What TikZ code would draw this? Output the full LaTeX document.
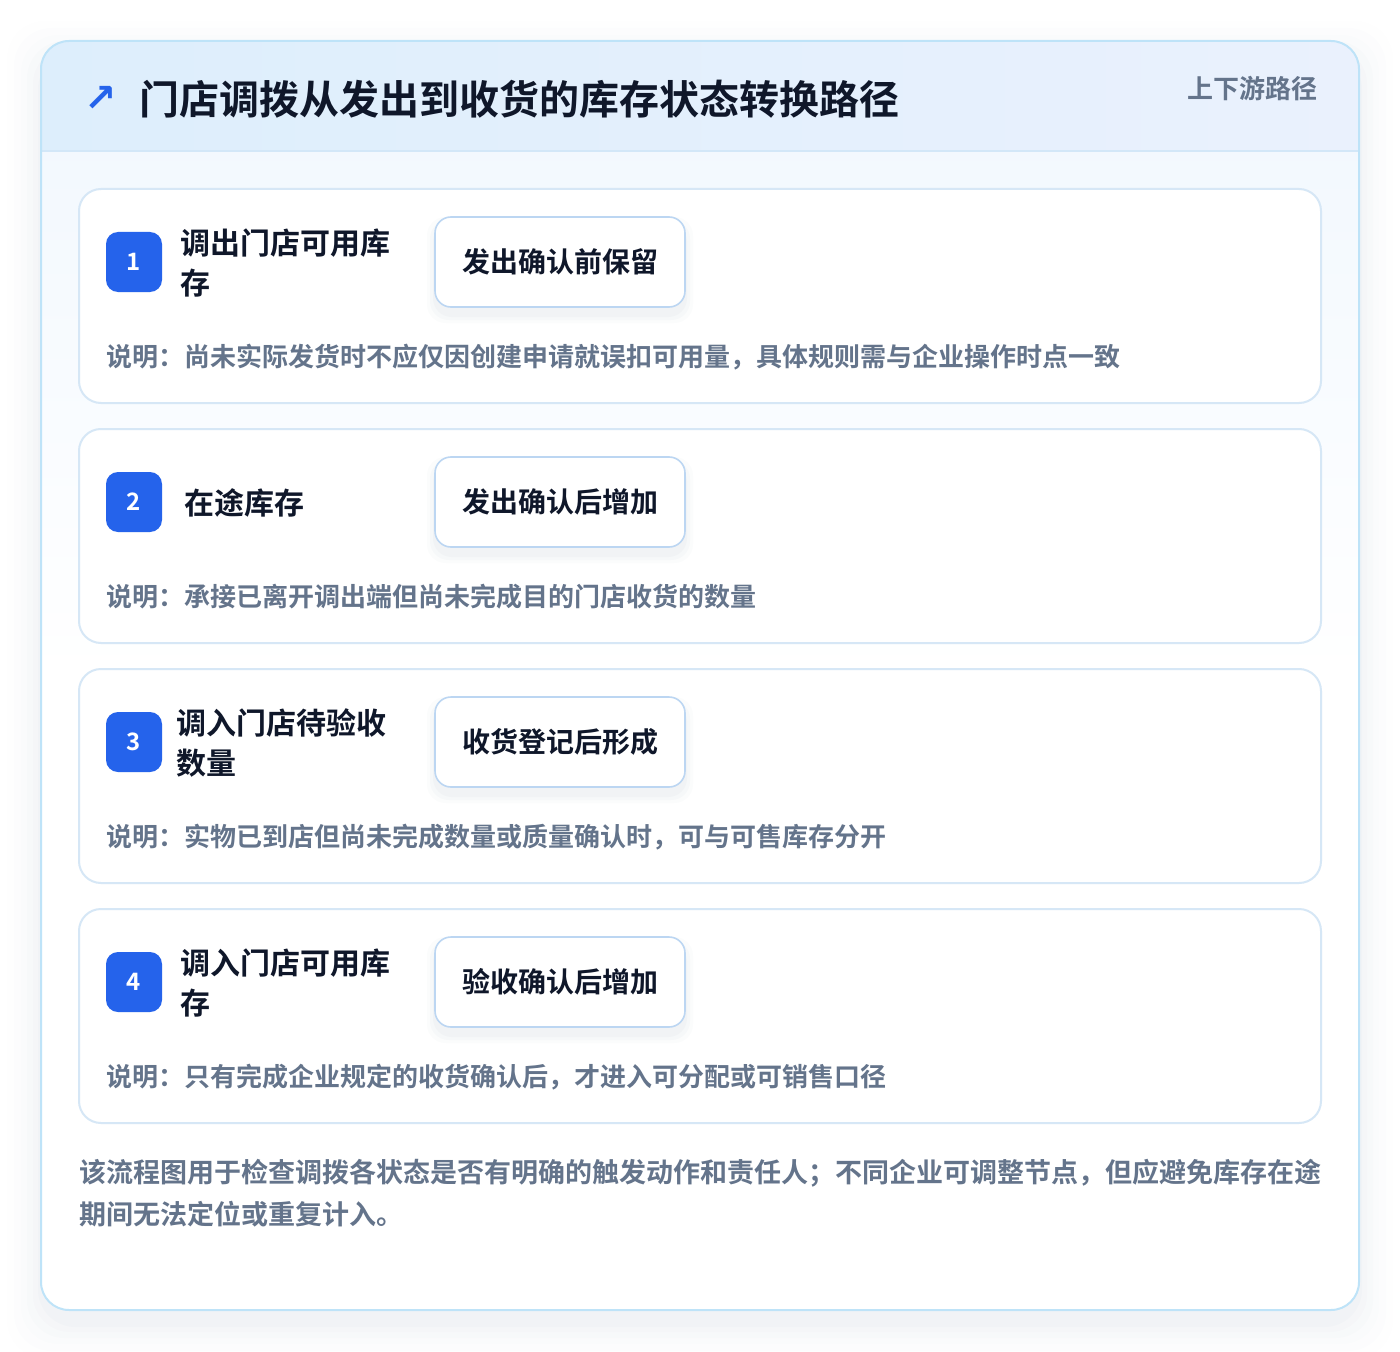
\documentclass[tikz,border=0pt]{standalone}
\usepackage{fontspec}
\setmainfont{Noto Sans CJK SC}[BoldFont={Noto Sans CJK SC Bold}]
\newfontfamily\dejavu{DejaVu Sans}
\definecolor{ink}{HTML}{0F172A}
\definecolor{muted}{HTML}{64748B}
\definecolor{brand}{HTML}{2563EB}
\definecolor{outerb}{HTML}{BEE3F8}
\definecolor{cardb}{HTML}{D6E7F6}
\definecolor{pillb}{HTML}{BCD6F2}
\definecolor{headl}{HTML}{DDEEFC}
\definecolor{headr}{HTML}{EAF1FD}
\definecolor{headline}{HTML}{D3E7F8}
\definecolor{bodytop}{HTML}{F0F7FE}
\definecolor{shadowc}{HTML}{94A3B8}
\tikzset{
  cardbox/.style={draw=cardb, line width=1.5pt, fill=white, rounded corners=16.5pt},
  badge/.style={fill=brand, rounded corners=9pt, minimum width=42pt, minimum height=45pt, inner sep=0pt,
    text=white, font=\fontsize{18}{20}\selectfont\bfseries},
  ctitle/.style={anchor=west, inner sep=0pt, align=left, text=ink, font=\fontsize{22.5}{30}\selectfont\bfseries},
  pillbox/.style={draw=pillb, line width=1.2pt, fill=white, rounded corners=12pt, minimum width=187.5pt,
    minimum height=67.5pt, inner sep=0pt, text=ink, font=\fontsize{21}{24}\selectfont\bfseries},
  desc/.style={anchor=west, inner sep=0pt, text=muted, font=\fontsize{19.5}{24}\selectfont\bfseries},
}
\begin{document}
\begin{tikzpicture}[x=0.75pt, y=-0.75pt]
\useasboundingbox (0,0) rectangle (1400,1352);
% outer shadow
\foreach \k/\op in {34/0.010,27/0.015,20/0.02,14/0.025,8/0.03,3/0.035}{
  \fill[shadowc, opacity=\op, rounded corners=28pt] (41-\k,41-\k+14) rectangle (1359+\k,1310+\k+14);
}
% outer card
\path[rounded corners=21pt, top color=bodytop, bottom color=white, middle color=white] (41,41) rectangle (1359,1310);
\begin{scope}
  \clip[rounded corners=21pt] (41,41) rectangle (1359,1310);
  \shade[left color=headl, right color=headr] (41,41) rectangle (1359,151);
  \draw[headline, line width=1.2pt] (41,151) -- (1359,151);
\end{scope}
\draw[outerb, line width=1.5pt, rounded corners=21pt] (41,41) rectangle (1359,1310);
% header texts
\node[anchor=center, inner sep=0pt, text=brand, font=\dejavu\fontsize{29}{30}\selectfont\bfseries] (icon) at (101,99) {↗};
\node[anchor=west, inner sep=0pt, text=ink, font=\fontsize{30}{34}\selectfont\bfseries] (title) at (139,99) {门店调拨从发出到收货的库存状态转换路径};
\node[anchor=east, inner sep=0pt, text=muted, font=\fontsize{19.5}{22}\selectfont\bfseries] (tag) at (1318,89) {上下游路径};
% cards
\foreach \i/\ttl/\act/\dsc/\tx in {
  1/{调出门店可用库\\存}/发出确认前保留/{说明：尚未实际发货时不应仅因创建申请就误扣可用量，具体规则需与企业操作时点一致}/180,
  2/{在途库存}/发出确认后增加/{说明：承接已离开调出端但尚未完成目的门店收货的数量}/184,
  3/{调入门店待验收\\数量}/收货登记后形成/{说明：实物已到店但尚未完成数量或质量确认时，可与可售库存分开}/176,
  4/{调入门店可用库\\存}/验收确认后增加/{说明：只有完成企业规定的收货确认后，才进入可分配或可销售口径}/180}{
  \pgfmathsetmacro{\yt}{189+240*(\i-1)}
  \draw[cardbox] (79,\yt) rectangle (1321,\yt+214);
  \node[coordinate] (card\i) at (79,\yt) {};
  \node[badge] (badge\i) at (134,\yt+73) {\i};
  \node[ctitle] (title\i) at (\tx,\yt+74) {\ttl};
  % pill shadow
  \foreach \s/\o in {8/0.03,5/0.04,2/0.05}{
    \fill[shadowc, opacity=\o, rounded corners=14pt] (435-\s,\yt+28-\s+8) rectangle (685+\s,\yt+118+\s+8);
  }
  \node[pillbox] (pill\i) at (560,\yt+73) {\act};
  \node[desc] (desc\i) at (106,\yt+168) {\dsc};
}
% footer
\node[anchor=north west, inner sep=0pt, align=left, text=muted, font=\fontsize{20.25}{31.5}\selectfont\bfseries] (foot) at (79,1159)
  {该流程图用于检查调拨各状态是否有明确的触发动作和责任人；不同企业可调整节点，但应避免库存在途\\期间无法定位或重复计入。};
\end{tikzpicture}
\end{document}
